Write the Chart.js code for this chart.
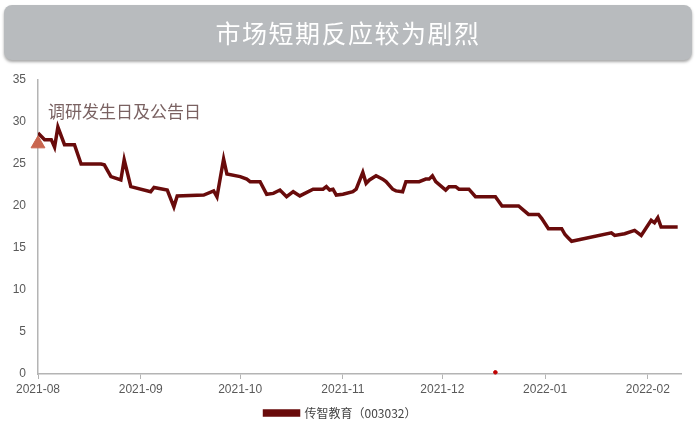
<!DOCTYPE html>
<html>
<head>
<meta charset="utf-8">
<script src="https://cdn.jsdelivr.net/npm/chart.js@4"></script>
<style>
  html, body { margin: 0; padding: 0; background: #fff; }
  #wrap { position: relative; width: 700px; height: 429px; }
  #title {
    position: absolute; left: 4px; top: 5px; width: 688px; height: 55px;
    background: #b8bbbe; border-radius: 8px;
    box-shadow: 0 2px 3px rgba(0,0,0,0.35);
    color: #fff; font: 25px "Noto Sans CJK SC", sans-serif; letter-spacing: 1.5px;
    line-height: 55px; text-align: center;
  }
  canvas { position: absolute; left: 0; top: 0; }
</style>
</head>
<body>
<div id="wrap">
  <canvas id="chart" width="700" height="429"></canvas>
  <div id="title">市场短期反应较为剧烈</div>
</div>
<script>
// --- データ ---
const dates = [
  '2021-08-01','2021-08-03','2021-08-05','2021-08-06','2021-08-07','2021-08-09','2021-08-12','2021-08-14',
  '2021-08-20','2021-08-21','2021-08-23','2021-08-26','2021-08-27','2021-08-29','2021-09-04','2021-09-05',
  '2021-09-09','2021-09-11','2021-09-12','2021-09-20','2021-09-23','2021-09-24','2021-09-26','2021-09-27',
  '2021-10-01','2021-10-03','2021-10-04','2021-10-07','2021-10-09','2021-10-11','2021-10-13','2021-10-15',
  '2021-10-17','2021-10-19','2021-10-23','2021-10-26','2021-10-27','2021-10-28','2021-10-29','2021-10-30',
  '2021-11-01','2021-11-04','2021-11-05','2021-11-07','2021-11-08','2021-11-09','2021-11-11','2021-11-13',
  '2021-11-14','2021-11-16','2021-11-17','2021-11-19','2021-11-20','2021-11-24','2021-11-26','2021-11-27',
  '2021-11-28','2021-11-29','2021-12-02','2021-12-03','2021-12-05','2021-12-06','2021-12-09','2021-12-11',
  '2021-12-17','2021-12-19','2021-12-24','2021-12-27','2021-12-30','2021-12-31','2022-01-02','2022-01-06',
  '2022-01-07','2022-01-08','2022-01-09','2022-01-21','2022-01-22','2022-01-25','2022-01-28','2022-01-30',
  '2022-02-02','2022-02-03','2022-02-04','2022-02-05','2022-02-10'
];
const prices = [
  28.7, 27.9, 27.9, 27.0, 29.4, 27.3, 27.3, 25.0,
  25.0, 24.9, 23.5, 23.1, 25.5, 22.3, 21.7, 22.2,
  21.9, 19.9, 21.2, 21.3, 21.8, 21.1, 25.6, 23.8,
  23.5, 23.2, 22.9, 22.9, 21.4, 21.5, 21.9, 21.1,
  21.7, 21.2, 22.0, 22.0, 22.3, 21.9, 22.0, 21.3,
  21.4, 21.7, 22.0, 24.0, 22.7, 23.1, 23.6, 23.2,
  22.9, 22.0, 21.8, 21.7, 22.9, 22.9, 23.2, 23.2,
  23.6, 22.9, 21.9, 22.3, 22.3, 22.0, 22.0, 21.1,
  21.1, 20.0, 20.0, 19.0, 19.0, 18.5, 17.3, 17.3,
  16.6, 16.2, 15.8, 16.8, 16.5, 16.7, 17.1, 16.5,
  18.3, 18.0, 18.6, 17.5, 17.5
];
const seriesName = '传智教育（003032）';
const eventDate = '2021-08-01';
const eventValue = 27.4;
const eventLabel = '调研发生日及公告日';
const strayDate = '2021-12-17';
const strayValue = 0.2;
const monthTicks = ['2021-08','2021-09','2021-10','2021-11','2021-12','2022-01','2022-02'];
const yTicks = [0, 5, 10, 15, 20, 25, 30, 35];

// 2021-08-01 からの日数
const base = Date.UTC(2021, 7, 1);
const dayOf = s => {
  const p = s.split('-').map(Number);
  return (Date.UTC(p[0], p[1] - 1, p[2] || 1) - base) / 864e5;
};

const lineColor = '#690b0b';
const axisColor = '#b4b4b4';
const textColor = '#595959';
const tickFont = { family: '"Liberation Sans", Arial, sans-serif', size: 12 };

const eventLabelPlugin = {
  id: 'eventLabel',
  afterDatasetsDraw(chart) {
    const { ctx, scales: { x, y } } = chart;
    ctx.save();
    ctx.font = '17px "Noto Sans CJK SC", sans-serif';
    ctx.fillStyle = '#7a6262';
    ctx.textBaseline = 'middle';
    ctx.fillText(eventLabel, x.getPixelForValue(3), y.getPixelForValue(31.2));
    ctx.restore();
  }
};

new Chart(document.getElementById('chart'), {
  type: 'line',
  data: {
    datasets: [
      {
        label: seriesName,
        data: dates.map((d, i) => ({ x: dayOf(d), y: prices[i] })),
        borderColor: lineColor,
        backgroundColor: lineColor,
        borderWidth: 3.5,
        pointRadius: 0,
        tension: 0,
        order: 2
      },
      {
        label: 'event',
        type: 'scatter',
        data: [{ x: dayOf(eventDate), y: eventValue }],
        pointStyle: 'triangle',
        pointRadius: 8,
        backgroundColor: '#c9664f',
        borderColor: '#c9664f',
        clip: false,
        order: 1
      },
      {
        label: 'stray',
        type: 'scatter',
        data: [{ x: dayOf(strayDate), y: strayValue }],
        pointRadius: 1.8,
        backgroundColor: '#c00000',
        borderColor: '#c00000',
        clip: false,
        order: 1
      }
    ]
  },
  options: {
    responsive: false,
    animation: false,
    layout: { padding: { top: 80, left: 0, right: 19, bottom: 0 } },
    scales: {
      x: {
        type: 'linear',
        min: 0,
        max: 194,
        afterFit: s => { s.height = 23; },
        afterBuildTicks: s => { s.ticks = monthTicks.map(m => ({ value: dayOf(m) })); },
        grid: { drawOnChartArea: false, drawTicks: true, tickLength: 5, color: axisColor },
        border: { color: axisColor, width: 1.5 },
        ticks: {
          color: textColor, font: tickFont, padding: 3, maxRotation: 0, autoSkip: false,
          callback: (v, i) => monthTicks[i]
        }
      },
      y: {
        min: 0,
        max: 35,
        afterFit: s => { s.width = 38; },
        afterBuildTicks: s => { s.ticks = yTicks.map(v => ({ value: v })); },
        grid: { display: false, drawTicks: false },
        border: { color: axisColor, width: 1.5 },
        ticks: { color: textColor, font: tickFont, padding: 12 }
      }
    },
    plugins: {
      legend: {
        position: 'bottom',
        labels: {
          filter: item => item.datasetIndex === 0,
          boxWidth: 34,
          boxHeight: 4,
          padding: 10,
          color: '#444',
          font: { family: '"Noto Sans CJK SC", sans-serif', size: 12 }
        }
      },
      tooltip: { enabled: false }
    }
  },
  plugins: [eventLabelPlugin]
});
</script>
</body>
</html>
